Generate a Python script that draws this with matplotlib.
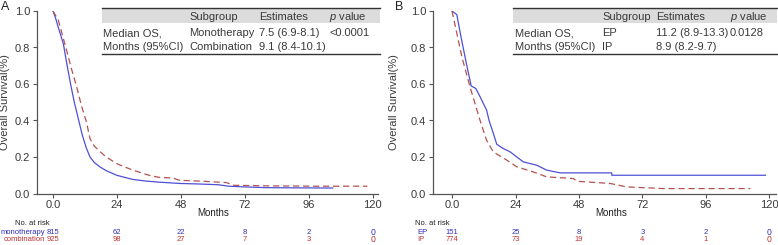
import numpy as np
import matplotlib
matplotlib.use("Agg")
from matplotlib import pyplot as plt
from matplotlib.patches import Rectangle
from matplotlib.lines import Line2D

plt.rcParams['font.family'] = ['Liberation Sans', 'DejaVu Sans']
plt.rcParams['mathtext.fontset'] = 'custom'
plt.rcParams['mathtext.it'] = 'Liberation Sans:italic'
plt.rcParams['mathtext.rm'] = 'Liberation Sans'

# panel A: Kaplan-Meier curves (months, survival)
mono_t = [0, 1, 2, 3.9, 5.2, 6.6, 8, 9.5, 11, 12.5, 13.9, 15.5, 17.6, 20, 23.9, 27, 30, 35, 40, 47.6, 55, 62, 66, 72, 80, 90, 105]
mono_s = [1.0, 0.96, 0.91, 0.82, 0.71, 0.60, 0.50, 0.41, 0.32, 0.25, 0.20, 0.17, 0.146, 0.125, 0.10, 0.088, 0.077, 0.068, 0.062, 0.055, 0.052, 0.048, 0.04, 0.036, 0.032, 0.031, 0.03]
comb_t = [0, 2, 3.5, 5.1, 7, 8.9, 10.7, 12.6, 13.9, 15.5, 17.6, 20, 23.9, 27, 30, 36, 40, 45, 47.6, 55, 65, 68, 80, 100, 118]
comb_s = [1.0, 0.95, 0.87, 0.785, 0.68, 0.584, 0.48, 0.39, 0.30, 0.26, 0.23, 0.20, 0.164, 0.145, 0.128, 0.10, 0.088, 0.085, 0.072, 0.068, 0.06, 0.045, 0.042, 0.04, 0.04]

# panel B
ep_t = [0, 1.8, 3.5, 5.6, 6.8, 7.2, 9, 10.6, 13.1, 14, 15.6, 16.9, 19.4, 22, 24.5, 27, 32, 35.8, 40.9, 60.4, 60.4, 118.5]
ep_s = [1.0, 0.98, 0.85, 0.70, 0.62, 0.59, 0.575, 0.53, 0.456, 0.40, 0.33, 0.27, 0.246, 0.228, 0.20, 0.173, 0.155, 0.128, 0.113, 0.113, 0.10, 0.10]
ip_t = [0, 3.7, 6.8, 10.6, 13.1, 15.6, 20.7, 24.5, 30.8, 35.8, 45.9, 47.2, 59.8, 66.1, 80, 112.8]
ip_s = [1.0, 0.75, 0.584, 0.40, 0.29, 0.228, 0.183, 0.146, 0.118, 0.091, 0.082, 0.067, 0.055, 0.036, 0.027, 0.027]

risk_times = [0, 24, 48, 72, 96, 120]
mono_risk = [815, 62, 22, 8, 2, 0]
comb_risk = [925, 98, 27, 7, 3, 0]
ep_risk = [151, 25, 8, 3, 2, 0]
ip_risk = [774, 73, 19, 4, 1, 0]

xticks = [0, 24, 48, 72, 96, 120]
xticklabels = ["0.0", "24", "48", "72", "96", "120"]
yticks = [0.0, 0.2, 0.4, 0.6, 0.8, 1.0]

BLUE = "#4f4fd6"
RED = "#b5524f"
BLUE_T = "#2f2fc0"
RED_T = "#c03030"
TXT = "#3a3a3a"

W, H = 778, 245
fig = plt.figure(figsize=(7.78, 2.45), dpi=100)


def fx(px):
    return px / W


def fy(py):
    return 1 - py / H


def km_axes(x0, x1, xlim, ylab_off):
    ax = fig.add_axes([fx(x0), fy(193.5), fx(x1 - x0), fy(11) - fy(193.5)])
    ax.set_xlim(*xlim)
    ax.set_ylim(0, 1.0)
    for s in ["top", "right"]:
        ax.spines[s].set_visible(False)
    for s in ["left", "bottom"]:
        ax.spines[s].set_color("#555555")
        ax.spines[s].set_linewidth(0.9)
    ax.set_xticks(xticks)
    ax.set_xticklabels(xticklabels)
    ax.set_yticks(yticks)
    ax.set_yticklabels(["%.1f" % v for v in yticks])
    ax.tick_params(labelsize=8, length=3, width=0.8, color="#555555", labelcolor=TXT, pad=2)
    ax.set_xlabel("Months", fontsize=7, color="#222222")
    ax.xaxis.set_label_coords((60 - xlim[0]) / (xlim[1] - xlim[0]), -0.08)
    ax.set_ylabel("Overall Survival(%)", fontsize=8, color=TXT)
    ax.yaxis.set_label_coords(-ylab_off / (x1 - x0), 0.5)
    return ax


def table(x0, x1, cols, rows):
    fig.patches.append(Rectangle((fx(x0), fy(23.5)), fx(x1 - x0), fy(8.5) - fy(23.5),
                                 transform=fig.transFigure, facecolor="#dcdcdc", edgecolor="none"))
    fig.lines.append(Line2D([fx(x0), fx(x1)], [fy(8.5), fy(8.5)], transform=fig.transFigure, color="#333333", lw=1.0))
    fig.lines.append(Line2D([fx(x0), fx(x1)], [fy(54), fy(54)], transform=fig.transFigure, color="#333333", lw=1.0))
    hdr = ["Subgroup", "Estimates", r"$p$ value"]
    for i, h in enumerate(hdr):
        fig.text(fx(cols[i + 1]), fy(17.5), h, fontsize=8, va="center", color=TXT)
    for r, row in enumerate(rows):
        yy = fy(33 + 14.5 * r)
        for c, txt in enumerate(row):
            fig.text(fx(cols[c]), yy, txt, fontsize=8, va="center", color=TXT)


def risk_row(ax, counts, ypx, color):
    for i, (t, n) in enumerate(zip(risk_times, counts)):
        xp = ax.transData.transform((t, 0))[0] / W
        fs = 6.2 if i == len(counts) - 1 else 5.5
        fig.text(xp, fy(ypx), str(n), fontsize=fs, va="center", ha="center", color=color)


# ---- panel A
axA = km_axes(37, 378, (-6, 122), 27)
axA.plot(mono_t, mono_s, color=BLUE, lw=0.9)
axA.plot(comb_t, comb_s, color=RED, lw=0.9, dashes=(5, 3))
fig.text(fx(1), fy(7), "A", fontsize=9, va="center", color="#222222")
table(102, 380, [103, 189, 259, 329],
      [["Median OS,", "Monotherapy", "7.5 (6.9-8.1)", "<0.0001"],
       ["Months (95%CI)", "Combination", "9.1 (8.4-10.1)", ""]])

fig.text(fx(15), fy(223), "No. at risk", fontsize=5.5, va="center", color="#222222")
fig.text(fx(45), fy(232), "monotherapy", fontsize=5.5, va="center", ha="right", color=BLUE_T)
fig.text(fx(45), fy(239.5), "combination", fontsize=5.5, va="center", ha="right", color=RED_T)
risk_row(axA, mono_risk, 232, BLUE_T)
risk_row(axA, comb_risk, 239.5, RED_T)

# ---- panel B
axB = km_axes(433, 776, (-7.2, 122.5), 34)
axB.plot(ep_t, ep_s, color=BLUE, lw=0.9)
axB.plot(ip_t, ip_s, color=RED, lw=0.9, dashes=(5, 3))
fig.text(fx(395), fy(7), "B", fontsize=9, va="center", color="#222222")
table(513, 777, [515, 602, 656, 730],
      [["Median OS,", "EP", "11.2 (8.9-13.3)", "0.0128"],
       ["Months (95%CI)", "IP", "8.9 (8.2-9.7)", ""]])

fig.text(fx(415), fy(223), "No. at risk", fontsize=5.5, va="center", color="#222222")
fig.text(fx(417), fy(232), "EP", fontsize=5.5, va="center", color=BLUE_T)
fig.text(fx(417), fy(239.5), "IP", fontsize=5.5, va="center", color=RED_T)
risk_row(axB, ep_risk, 232, BLUE_T)
risk_row(axB, ip_risk, 239.5, RED_T)

fig.savefig("out.png", dpi=100)
